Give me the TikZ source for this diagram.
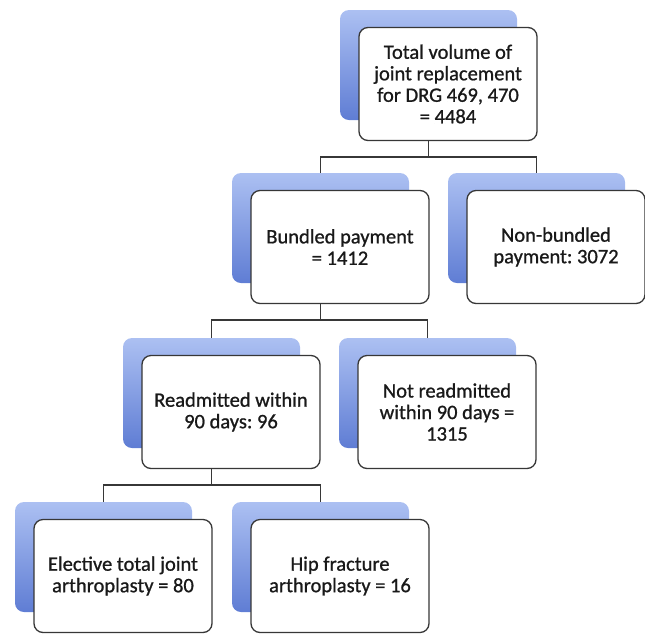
\documentclass[tikz,border=0pt]{standalone}
\usepackage{fontspec}
\setmainfont{Carlito}[BoldFont=Carlito, BoldFeatures={FakeBold=0.9}]
\definecolor{backtop}{RGB}{172,192,242}
\definecolor{backbot}{RGB}{95,125,212}
\definecolor{frameclr}{RGB}{55,55,55}
\definecolor{txtclr}{RGB}{25,25,25}
\tikzset{
  backbox/.style={rounded corners=9pt, top color=backtop, bottom color=backbot, draw=none,
    minimum width=177pt, minimum height=110pt, inner sep=0pt, outer sep=0pt, anchor=north west},
  frontbox/.style={rounded corners=9pt, draw=frameclr, line width=1.3pt, fill=white,
    minimum width=178pt, minimum height=113pt, inner sep=0pt, outer sep=0pt, anchor=north west},
  label/.style={align=center, text=txtclr, font=\fontsize{20.5}{21.5}\selectfont\bfseries\frenchspacing, inner sep=0pt},
  conn/.style={draw=frameclr, line width=1.6pt}
}
\newcommand{\orgunit}[4]{%
  \node[backbox] (#1B) at (#2,#3) {};
  \node[frontbox] (#1F) at (#2+19,#3+17.5) {};
  \node[label] (#1T) at (#1F.center) {#4};
}
\begin{document}
\begin{tikzpicture}[x=1pt,y=-1pt]
\useasboundingbox (0,0) rectangle (645,633);
\orgunit{top}{340}{10}{Total volume of\\joint replacement\\for DRG 469, 470\\= 4484}
\orgunit{bun}{232}{173}{Bundled payment\\= 1412}
\orgunit{non}{448}{173}{Non-bundled\\payment: 3072}
\orgunit{rea}{123}{338}{Readmitted within\\90 days: 96}
\orgunit{not}{339}{338}{Not readmitted\\within 90 days =\\1315}
\orgunit{ele}{15}{502}{Elective total joint\\arthroplasty = 80}
\orgunit{hip}{232}{502}{Hip fracture\\arthroplasty = 16}
% connectors
\draw[conn] (topB.center |- topF.south) -- ++(0,16.5) -| (bunB.north);
\draw[conn] (topB.center |- topF.south) -- ++(0,16.5) -| (nonB.north);
\draw[conn] (bunB.center |- bunF.south) -- ++(0,16.5) -| (reaB.north);
\draw[conn] (bunB.center |- bunF.south) -- ++(0,16.5) -| (notB.north);
\draw[conn] (reaB.center |- reaF.south) -- ++(0,16.5) -| (eleB.north);
\draw[conn] (reaB.center |- reaF.south) -- ++(0,16.5) -| (hipB.north);
\end{tikzpicture}
\end{document}
